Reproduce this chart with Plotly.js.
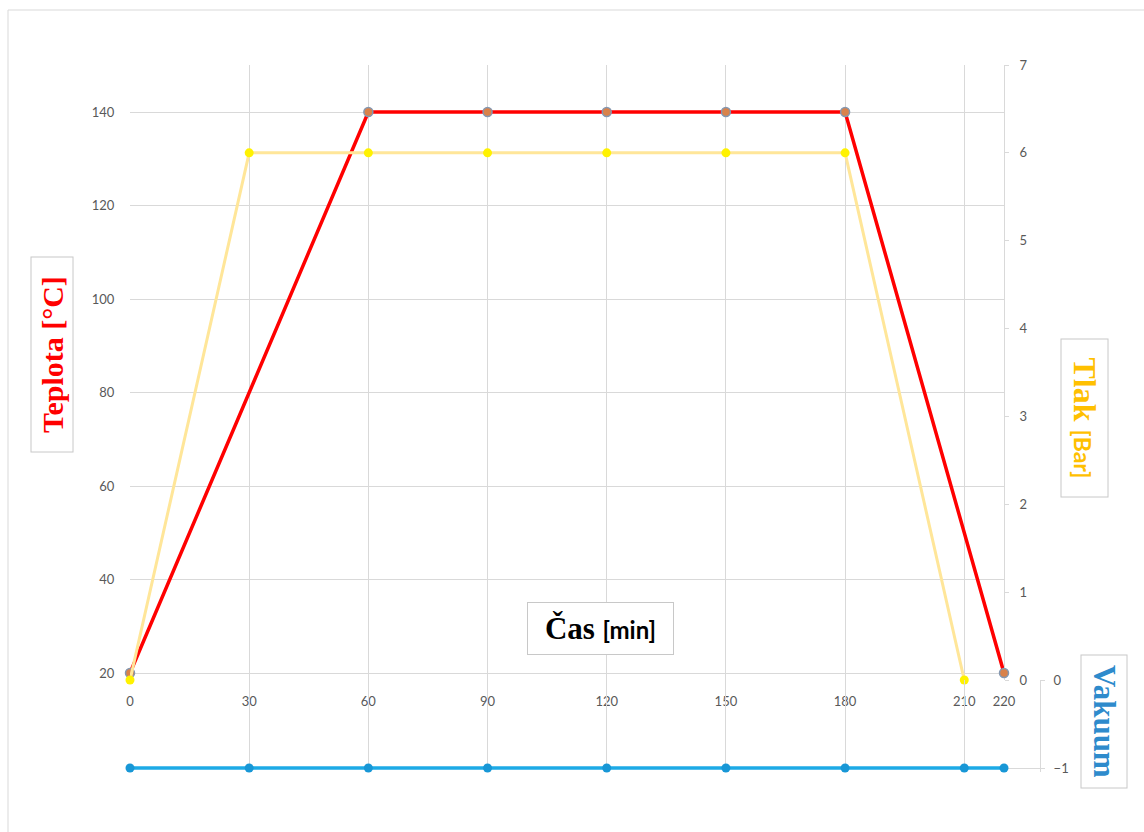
<!DOCTYPE html>
<html>
<head>
<meta charset="utf-8">
<script src="https://cdn.plot.ly/plotly-3.0.1.min.js"></script>
<style>
  html, body { margin: 0; padding: 0; background: #ffffff; }
  #chart { width: 1144px; height: 832px; }
</style>
</head>
<body>
<div id="chart"></div>
<script>
// Temperature profile (°C)
const timeTemp = [0, 60, 90, 120, 150, 180, 220];
const tempC = [20, 140, 140, 140, 140, 140, 20];

// Pressure profile (bar)
const timePress = [0, 30, 60, 90, 120, 150, 180, 210];
const pressBar = [0, 6, 6, 6, 6, 6, 6, 0];

// Vacuum (bar)
const timeVac = [0, 30, 60, 90, 120, 150, 180, 210, 220];
const vacuum = [-1, -1, -1, -1, -1, -1, -1, -1, -1];

// Tick values
const timeTicks = [0, 30, 60, 90, 120, 150, 180, 210, 220];
const timeTicksLower = [0, 30, 60, 90, 120, 150, 180, 210];
const tempTicks = [20, 40, 60, 80, 100, 120, 140];
const pressTicks = [0, 1, 2, 3, 4, 5, 6, 7];
const vacTicks = [-1, 0];

// ---- geometry (pixels of the 1144x832 canvas) ----
const W = 1144, H = 832;
const plotL = 130, plotR = 1040, plotT = 65, plotB = 772;
const xAxisRightPx = 1004;      // right end of the time axis
const mainBottomPx = 680;       // bottom of the upper panel
const vacZeroPx = 680, vacOnePx = 768;

const px2x = p => (p - plotL) / (plotR - plotL);
const px2y = p => (plotB - p) / (plotB - plotT);

const xDomEnd = px2x(xAxisRightPx);
const mainDomLo = px2y(mainBottomPx);

// temperature scale: 20 at y=673, 140 at y=112
const tPx = (673 - 112) / 120;
const tempRange = [20 - (mainBottomPx - 673) / tPx, 140 + (112 - plotT) / tPx];

// vacuum scale
const vPx = vacOnePx - vacZeroPx;
const vacRange = [-1 - (plotB - vacOnePx) / vPx, 0];

const tickFont = { family: 'Lato, "Open Sans", sans-serif', size: 13, color: '#595959' };
const grid = '#D9D9D9';

const traces = [
  {
    x: timeTemp, y: tempC, xaxis: 'x', yaxis: 'y',
    type: 'scatter', mode: 'lines+markers', cliponaxis: false,
    line: { color: '#FF0000', width: 3.5 },
    marker: { size: 9, color: '#D9824A', line: { color: '#8497B0', width: 1.5 } },
    hoverinfo: 'x+y'
  },
  {
    x: timePress, y: pressBar, xaxis: 'x', yaxis: 'y2',
    type: 'scatter', mode: 'lines+markers', cliponaxis: false,
    line: { color: '#FFE699', width: 3 },
    marker: { size: 9, color: '#FFF200' },
    hoverinfo: 'x+y'
  },
  {
    x: timeVac, y: vacuum, xaxis: 'x2', yaxis: 'y3',
    type: 'scatter', mode: 'lines+markers', cliponaxis: false,
    line: { color: '#1DAAE6', width: 3.5 },
    marker: { size: 9, color: '#1897D6' },
    hoverinfo: 'x+y'
  }
];

const layout = {
  width: W, height: H, autosize: false,
  margin: { l: plotL, r: W - plotR, t: plotT, b: H - plotB, pad: 0 },
  paper_bgcolor: '#ffffff', plot_bgcolor: 'rgba(0,0,0,0)',
  showlegend: false,
  xaxis: {
    domain: [0, xDomEnd], range: [0, 220], anchor: 'y',
    tickmode: 'array', tickvals: timeTicks,
    showgrid: true, gridcolor: grid, gridwidth: 1,
    zeroline: false, showline: false, layer: 'below traces',
    ticks: 'outside', ticklen: 0, ticklabelstandoff: 9,
    tickfont: tickFont
  },
  xaxis2: {
    domain: [0, 1], range: [0, 220 / xDomEnd],
    anchor: 'free', position: px2y(vacOnePx),
    tickmode: 'array', tickvals: timeTicksLower,
    showgrid: true, gridcolor: grid, gridwidth: 1,
    zeroline: false, showline: true, linecolor: grid, linewidth: 1,
    layer: 'below traces',
    showticklabels: false, ticks: ''
  },
  yaxis: {
    domain: [mainDomLo, 1], range: tempRange, anchor: 'x',
    tickmode: 'array', tickvals: tempTicks,
    showgrid: true, gridcolor: grid, gridwidth: 1,
    zeroline: false, showline: false, layer: 'below traces',
    ticks: 'outside', ticklen: 0, ticklabelstandoff: 12,
    tickfont: tickFont
  },
  yaxis2: {
    overlaying: 'y', side: 'right', anchor: 'x',
    range: [0, 7], tickmode: 'array', tickvals: pressTicks,
    showgrid: false, zeroline: false, layer: 'below traces',
    showline: true, linecolor: grid, linewidth: 1,
    ticks: 'outside', ticklen: 4, tickcolor: grid, ticklabelstandoff: 8,
    tickfont: tickFont
  },
  yaxis3: {
    domain: [0, mainDomLo], range: vacRange,
    anchor: 'free', position: 1, side: 'right',
    tickmode: 'array', tickvals: vacTicks,
    showgrid: false, zeroline: false, layer: 'below traces',
    showline: true, linecolor: grid, linewidth: 1,
    ticks: 'outside', ticklen: 4, tickcolor: grid, ticklabelstandoff: 6,
    tickfont: tickFont
  },
  shapes: [
    {
      type: 'rect', xref: 'paper', yref: 'paper', layer: 'below',
      x0: px2x(8), x1: px2x(1160), y0: px2y(845), y1: px2y(10),
      line: { color: '#D9D9D9', width: 1 }, fillcolor: 'rgba(0,0,0,0)'
    }
  ],
  annotations: [
    {
      text: '<b>Teplota [°C]</b>', xref: 'paper', yref: 'paper',
      x: px2x(52.5), y: px2y(355), xanchor: 'center', yanchor: 'middle',
      showarrow: false, textangle: -90, width: 194, height: 41,
      font: { family: '"Liberation Serif", "Times New Roman", serif', size: 30, color: '#FF0000' },
      bgcolor: '#ffffff', bordercolor: '#C8C8C8', borderwidth: 1, borderpad: 0
    },
    {
      text: '<b>Tlak</b> <span style="font-family:Lato;font-size:23px"><b>[Bar]</b></span>',
      xref: 'paper', yref: 'paper',
      x: px2x(1084), y: px2y(417.5), xanchor: 'center', yanchor: 'middle',
      showarrow: false, textangle: 90, width: 157, height: 46,
      font: { family: '"Liberation Serif", "Times New Roman", serif', size: 32, color: '#FFC000' },
      bgcolor: '#ffffff', bordercolor: '#C8C8C8', borderwidth: 1, borderpad: 0
    },
    {
      text: '<b>Vakuum</b>', xref: 'paper', yref: 'paper',
      x: px2x(1104.5), y: px2y(721), xanchor: 'center', yanchor: 'middle',
      showarrow: false, textangle: 90, width: 132, height: 45,
      font: { family: '"Liberation Serif", "Times New Roman", serif', size: 31, color: '#2E8BCC' },
      bgcolor: '#ffffff', bordercolor: '#C8C8C8', borderwidth: 1, borderpad: 0
    },
    {
      text: '<b>Čas</b> <span style="font-family:Lato;font-size:24px"><b>[min]</b></span>',
      xref: 'paper', yref: 'paper',
      x: px2x(600.5), y: px2y(628), xanchor: 'center', yanchor: 'middle',
      showarrow: false, width: 145, height: 51,
      font: { family: '"Liberation Serif", "Times New Roman", serif', size: 31, color: '#000000' },
      bgcolor: '#ffffff', bordercolor: '#C8C8C8', borderwidth: 1, borderpad: 0
    }
  ]
};

Plotly.newPlot('chart', traces, layout, { displayModeBar: false, staticPlot: true });
</script>
</body>
</html>
